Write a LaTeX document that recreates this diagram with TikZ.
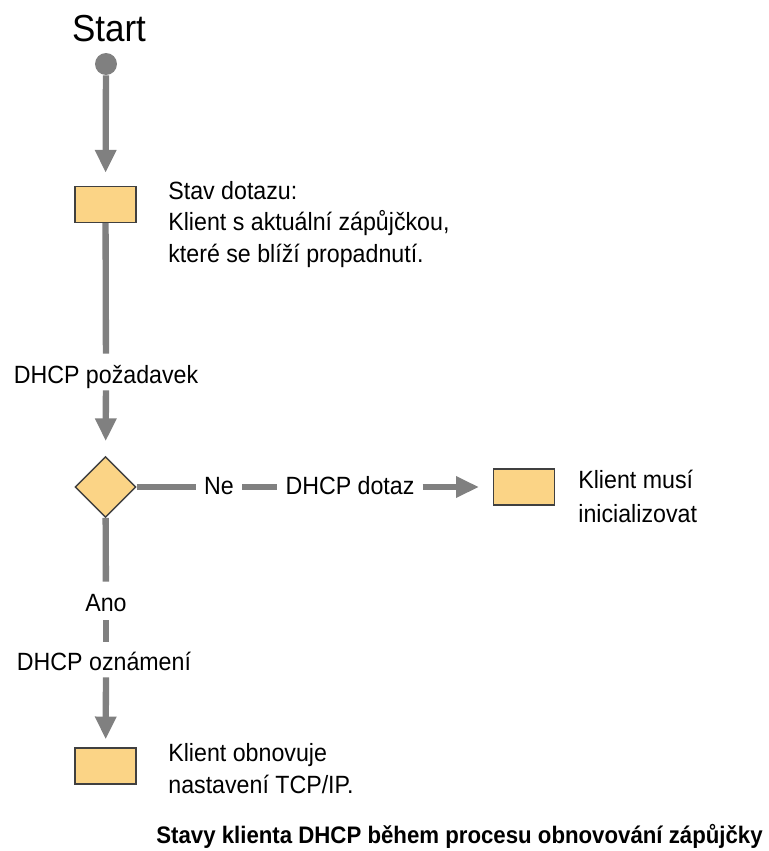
\documentclass[tikz,border=0pt]{standalone}
\usepackage{fontspec}
\setmainfont{Liberation Sans}[FakeStretch=0.93]
\usetikzlibrary{shapes.geometric, arrows.meta, positioning}
\definecolor{cLine}{RGB}{128,128,128}
\definecolor{cBox}{RGB}{251,212,134}
\definecolor{cEdge}{RGB}{64,64,64}
\tikzset{
	statebox/.style={rectangle, draw=cEdge, line width=0.8pt, fill=cBox, minimum width=34.5pt, minimum height=20.5pt, inner sep=0pt},
	decide/.style  ={diamond, draw=cEdge, line width=0.8pt, fill=cBox, minimum width=34.5pt, minimum height=34.5pt, inner sep=0pt},
	startdot/.style={circle, fill=cLine, minimum size=12.5pt, inner sep=0pt},
	lbl/.style     ={inner xsep=4.5pt, inner ysep=0pt, text height=11pt, text depth=3pt},
	note/.style    ={anchor=base west, align=left, inner sep=0pt},
	% connectors
	seg/.style     ={line width=3.6pt, draw=cLine},
	arr/.style     ={seg, -{Triangle[length=13pt, width=11.5pt]}},
}
\begin{document}
\begin{tikzpicture}[x=0.02cm, y=-0.02cm, font=\fontsize{14.2}{17.8}\selectfont]
	\useasboundingbox (0,0) rectangle (768,851);
	% start
	\node[anchor=base, inner sep=0pt, font=\fontsize{21.4}{24}\selectfont] (start) at (109,42) {Start};
	\node[startdot] (dot) at (106,64) {};
	% states
	\node[statebox] (query) at (105.5,204.5) {};
	\node[note] (querytxt) at (168,262) {Stav dotazu:\\Klient s aktuální zápůjčkou,\\které se blíží propadnutí.};
	\node[decide] (check) at (105.5,487) {};
	\node[statebox] (init) at (524,487) {};
	\node[note, font=\fontsize{14.2}{19}\selectfont] (inittxt) at (578,522) {Klient musí\\inicializovat};
	\node[statebox] (renew) at (105.5,766) {};
	\node[note] (renewtxt) at (168,793) {Klient obnovuje\\nastavení TCP/IP.};
	% labels on connectors
	\node[lbl] (request) at (106,376) {DHCP požadavek};
	\node[lbl] (ne) at (219,487) {Ne};
	\node[lbl] (discover) at (350,487) {DHCP dotaz};
	\node[lbl] (ano) at (106,604) {Ano};
	\node[lbl] (offer) at (104,663) {DHCP oznámení};
	% connectors
	\draw[arr, shorten >=7.4pt] (dot) -- (query);
	\draw[seg, shorten >=5.5pt] (query) -- (request);
	\draw[arr, shorten <=1pt, shorten >=8.5pt] (request) -- (check);
	\draw[seg] (check) -- (ne);
	\draw[seg] (ne) -- (discover);
	\draw[arr, shorten >=8pt] (discover) -- (init);
	\draw[seg, shorten >=5.5pt] (check) -- (ano);
	\draw[seg, shorten <=2pt, shorten >=5pt] (ano) -- (ano |- offer.north);
	\draw[arr, shorten <=1pt, shorten >=4.5pt] (ano |- offer.south) -- (renew);
	% caption
	\node[note, font=\bfseries\fontsize{13.6}{16}\selectfont] (caption) at (156,843) {Stavy klienta DHCP během procesu obnovování zápůjčky};
\end{tikzpicture}
\end{document}
